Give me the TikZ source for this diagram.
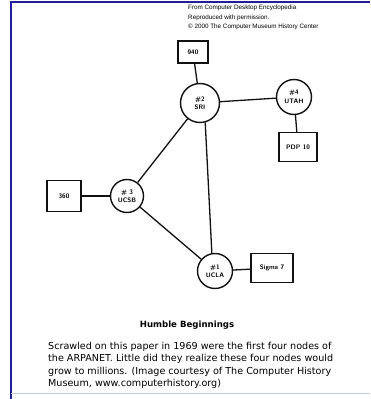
\documentclass[tikz,border=0pt]{standalone}
\usepackage{fontspec}
\setmainfont{DejaVu Sans}
\newfontfamily\creditfont{Liberation Sans}
\usetikzlibrary{positioning,calc}
\definecolor{frame}{HTML}{1F1F9A}
\definecolor{rule}{HTML}{C8CCE0}
\definecolor{ink}{HTML}{111111}

\begin{document}
\begin{tikzpicture}[x=1pt, y=1pt,
  site/.style={circle, draw=ink, line width=1.4pt, minimum size=35pt, inner sep=0pt, align=center, font=\fontsize{6.5}{7.5}\selectfont\sffamily\bfseries},
  host/.style={draw=ink, line width=1.4pt, inner sep=0pt, align=center, font=\fontsize{6.5}{7.5}\selectfont\sffamily\bfseries},
  link/.style={ink, line width=1.3pt}]

\useasboundingbox (0,0) rectangle (370,399);
\fill[white] (0,0) rectangle (370,399);
\draw[frame, line width=2pt] (11,0) -- (11,397) -- (370,397);
\draw[rule, line width=0.8pt] (11,6) -- (370,6);

\node[anchor=north west, align=left, inner sep=0pt, font=\creditfont\fontsize{6.3}{9.3}\selectfont] (credit) at (188,394)
  {From Computer Desktop Encyclopedia\\Reproduced with permission.\\\textcopyright\ 2000 The Computer Museum History Center};

% the four sites
\node[site, minimum size=39pt] (sri) at (200,296) {\#2\\[1pt]SRI};
\node[site] (utah) at (294,302) {\#4\\[1pt]UTAH};
\node[site, minimum size=33pt] (ucsb) at (127,203) {\# 3\\UCSB};
\node[site] (ucla) at (215,128) {\#1\\[1pt]UCLA};

% the hosts
\node[host, minimum width=30pt, minimum height=22pt] (h940) at (193,347) {940};
\node[host, minimum width=38pt, minimum height=29pt] (pdp) at (298,252) {PDP 10};
\node[host, minimum width=34pt, minimum height=31pt] (h360) at (64,203) {360};
\node[host, minimum width=42pt, minimum height=29pt] (sigma) at (272,131) {Sigma 7};

\draw[link] (h940) -- (sri);
\draw[link] (sri) -- (utah);
\draw[link] (utah) -- (pdp);
\draw[link] (sri) -- (ucsb);
\draw[link] (sri.-75) -- (ucla.100);
\draw[link] (h360) -- (ucsb);
\draw[link] (ucsb) -- (ucla);
\draw[link] (ucla) -- (sigma);

\node[font=\fontsize{8.6}{10}\selectfont\bfseries] (title) at (187,74) {Humble Beginnings};
\node[anchor=north west, align=left, inner sep=0pt, font=\fontsize{9.6}{12.3}\selectfont] (caption) at (48,57)
  {Scrawled on this paper in 1969 were the first four nodes of\\the ARPANET. Little did they realize these four nodes would\\grow to millions. (Image courtesy of The Computer History\\Museum, www.computerhistory.org)};
\end{tikzpicture}
\end{document}
